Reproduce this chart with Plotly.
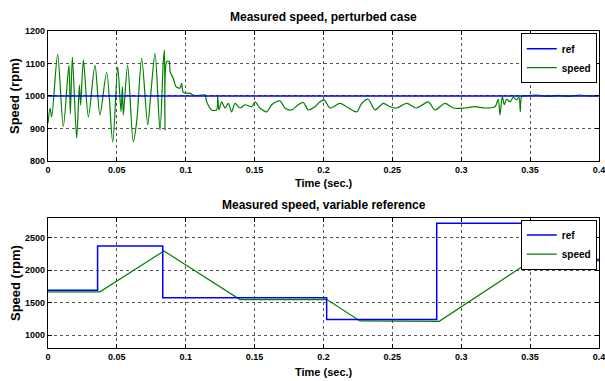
import plotly.graph_objects as go
from plotly.subplots import make_subplots

# ---------------- data ----------------
# Top: measured speed, perturbed case
ref1_t = [0.0, 0.4]
ref1_v = [1000, 1000]

speed1_t = [0.0, 0.0015, 0.0027, 0.007, 0.0111, 0.0152, 0.0162, 0.0177, 0.0208, 0.0228,
            0.0237, 0.0257, 0.0293, 0.0341, 0.0377, 0.0426, 0.047, 0.0506, 0.053, 0.054,
            0.0547, 0.0578, 0.0619, 0.0644, 0.068, 0.0724, 0.0745, 0.0777, 0.0813, 0.0837,
            0.0845, 0.0849, 0.0862, 0.088, 0.0886, 0.091, 0.0929, 0.0958, 0.097, 0.0982,
            0.103, 0.1067, 0.114, 0.1152, 0.1188, 0.1224, 0.1232, 0.1241, 0.1261, 0.1285,
            0.1309, 0.1333, 0.1358, 0.1394, 0.143, 0.1479, 0.1503, 0.1539, 0.1588, 0.1624,
            0.1684, 0.172, 0.1769, 0.1817, 0.1854, 0.189, 0.1938, 0.1975, 0.2005, 0.2047,
            0.212, 0.2168, 0.2241, 0.2277, 0.2325, 0.2374, 0.2434, 0.2483, 0.2531, 0.2604,
            0.2676, 0.2761, 0.2809, 0.2882, 0.2942, 0.3027, 0.31, 0.3172, 0.3245, 0.3269,
            0.3281, 0.3298, 0.3313, 0.333, 0.3354, 0.3378, 0.3402, 0.3419, 0.3429, 0.3439,
            0.3475, 0.355, 0.362, 0.37, 0.378, 0.386, 0.393, 0.4]
speed1_v = [916, 962, 936, 1128, 906, 1095, 945, 1120, 870, 1034,
            972, 1111, 936, 1095, 942, 1073, 858, 1090, 952, 1029,
            941, 1095, 859, 921, 1116, 911, 1000, 1131, 895, 1106,
            1142, 895, 1106, 1106, 1075, 1054, 1029, 1024, 1039, 1011,
            1008, 1001, 1003, 982, 957, 957, 1000, 957, 982, 963,
            977, 951, 977, 963, 973, 967, 982, 963, 951, 973,
            985, 963, 957, 973, 980, 957, 967, 982, 988, 963,
            977, 967, 951, 977, 990, 957, 977, 967, 963, 977,
            963, 982, 957, 977, 963, 963, 967, 963, 967, 990,
            942, 998, 973, 990, 982, 996, 988, 996, 952, 998,
            1001, 1003, 999, 1002, 999, 1003, 1000, 1001]

# Bottom: measured speed, variable reference
ref2_t = [0.0, 0.036, 0.036, 0.0833, 0.0833, 0.2023, 0.2023, 0.2822, 0.2822, 0.3632, 0.3632, 0.4]
ref2_v = [1690, 1690, 2370, 2370, 1575, 1575, 1238, 1238, 2720, 2720, 2160, 2160]

speed2_t = [0.0, 0.0377, 0.0842, 0.1394, 0.2025, 0.2265, 0.284, 0.362, 0.3765, 0.4]
speed2_v = [1665, 1665, 2293, 1545, 1545, 1217, 1210, 2300, 2145, 2140]

x_ticks = [0, 0.05, 0.1, 0.15, 0.2, 0.25, 0.3, 0.35, 0.4]
x_ticktext = ["0", "0.05", "0.1", "0.15", "0.2", "0.25", "0.3", "0.35", "0.4"]
y1_ticks = [800, 900, 1000, 1100, 1200]
y2_ticks = [1000, 1500, 2000, 2500]

titles = ["Measured speed, perturbed case", "Measured speed, variable reference"]
x_title = "Time (sec.)"
y_title = "Speed (rpm)"

# ---------------- figure ----------------
FONT = "Liberation Sans, Arial, sans-serif"
BLUE = "#0000ff"
GREEN = "#008000"

fig = make_subplots(rows=2, cols=1)

fig.add_trace(go.Scatter(x=speed1_t, y=speed1_v, mode="lines", name="speed",
                         line=dict(color=GREEN, width=1.2, shape="spline", smoothing=0.8),
                         legend="legend", legendrank=2), row=1, col=1)
fig.add_trace(go.Scatter(x=ref1_t, y=ref1_v, mode="lines", name="ref",
                         line=dict(color=BLUE, width=1.5),
                         legend="legend", legendrank=1), row=1, col=1)
fig.add_trace(go.Scatter(x=speed2_t, y=speed2_v, mode="lines", name="speed",
                         line=dict(color=GREEN, width=1.2),
                         legend="legend2", legendrank=2), row=2, col=1)
fig.add_trace(go.Scatter(x=ref2_t, y=ref2_v, mode="lines", name="ref",
                         line=dict(color=BLUE, width=1.5),
                         legend="legend2", legendrank=1), row=2, col=1)

axis_common = dict(showline=True, linecolor="black", linewidth=1.2, mirror="ticks",
                   ticks="inside", ticklen=4, tickcolor="black", automargin=False,
                   showgrid=True, gridcolor="#555555", griddash="dot", gridwidth=1,
                   zeroline=False, ticklabeloverflow="allow",
                   tickfont=dict(family=FONT, size=9, color="black", weight="bold"))

for r in (1, 2):
    fig.update_xaxes(range=[0, 0.40001], tickvals=x_ticks, ticktext=x_ticktext,
                     row=r, col=1, **axis_common)
fig.update_yaxes(range=[800, 1200.01], tickvals=y1_ticks, row=1, col=1, **axis_common)
fig.update_yaxes(range=[800, 2800], tickvals=y2_ticks, row=2, col=1, **axis_common)

legend_common = dict(xanchor="right", yanchor="top",
                     bgcolor="white", bordercolor="black", borderwidth=1,
                     font=dict(family=FONT, size=10, color="black", weight="bold"),
                     itemwidth=30, tracegroupgap=0)

# plot area: x 48..599, y 31..348 px (height 317)
fig.update_layout(
    width=605, height=381,
    margin=dict(l=48, r=6, t=31, b=33, autoexpand=False),
    paper_bgcolor="white", plot_bgcolor="white",
    xaxis=dict(domain=[0, 1]), xaxis2=dict(domain=[0, 1]),
    yaxis=dict(domain=[0.59, 1.0]), yaxis2=dict(domain=[0.0, 0.41]),
    font=dict(family=FONT, color="black"),
    legend=dict(x=0.996, y=0.993, **legend_common),
    legend2=dict(x=0.996, y=0.405, **legend_common),
)

title_font = dict(family=FONT, size=12, color="black", weight="bold")
xlab_font = dict(family=FONT, size=11, color="black", weight="bold")
ylab_font = dict(family=FONT, size=13, color="black", weight="bold")
PT, PB, PL, PR = 31.0, 348.0, 48.0, 599.0

def fy(ypx):
    return (PB - ypx) / (PB - PT)

def fx(xpx):
    return (xpx - PL) / (PR - PL)

annotations = [
    dict(text=titles[0], x=0.5, y=fy(17), font=title_font),
    dict(text=titles[1], x=0.5, y=fy(205), font=title_font),
    dict(text=x_title, x=0.5, y=fy(183), font=xlab_font),
    dict(text=x_title, x=0.5, y=fy(372), font=xlab_font),
    dict(text=y_title, x=fx(15), y=fy(96), textangle=-90, font=ylab_font),
    dict(text=y_title, x=fx(15), y=fy(283), textangle=-90, font=ylab_font),
]
for a in annotations:
    a.update(xref="paper", yref="paper", xanchor="center", yanchor="middle",
             showarrow=False)
fig.update_layout(annotations=annotations)

fig.write_html("out.html", config={"displayModeBar": False},
               post_script="document.body.style.margin='0';document.body.style.padding='0';")
